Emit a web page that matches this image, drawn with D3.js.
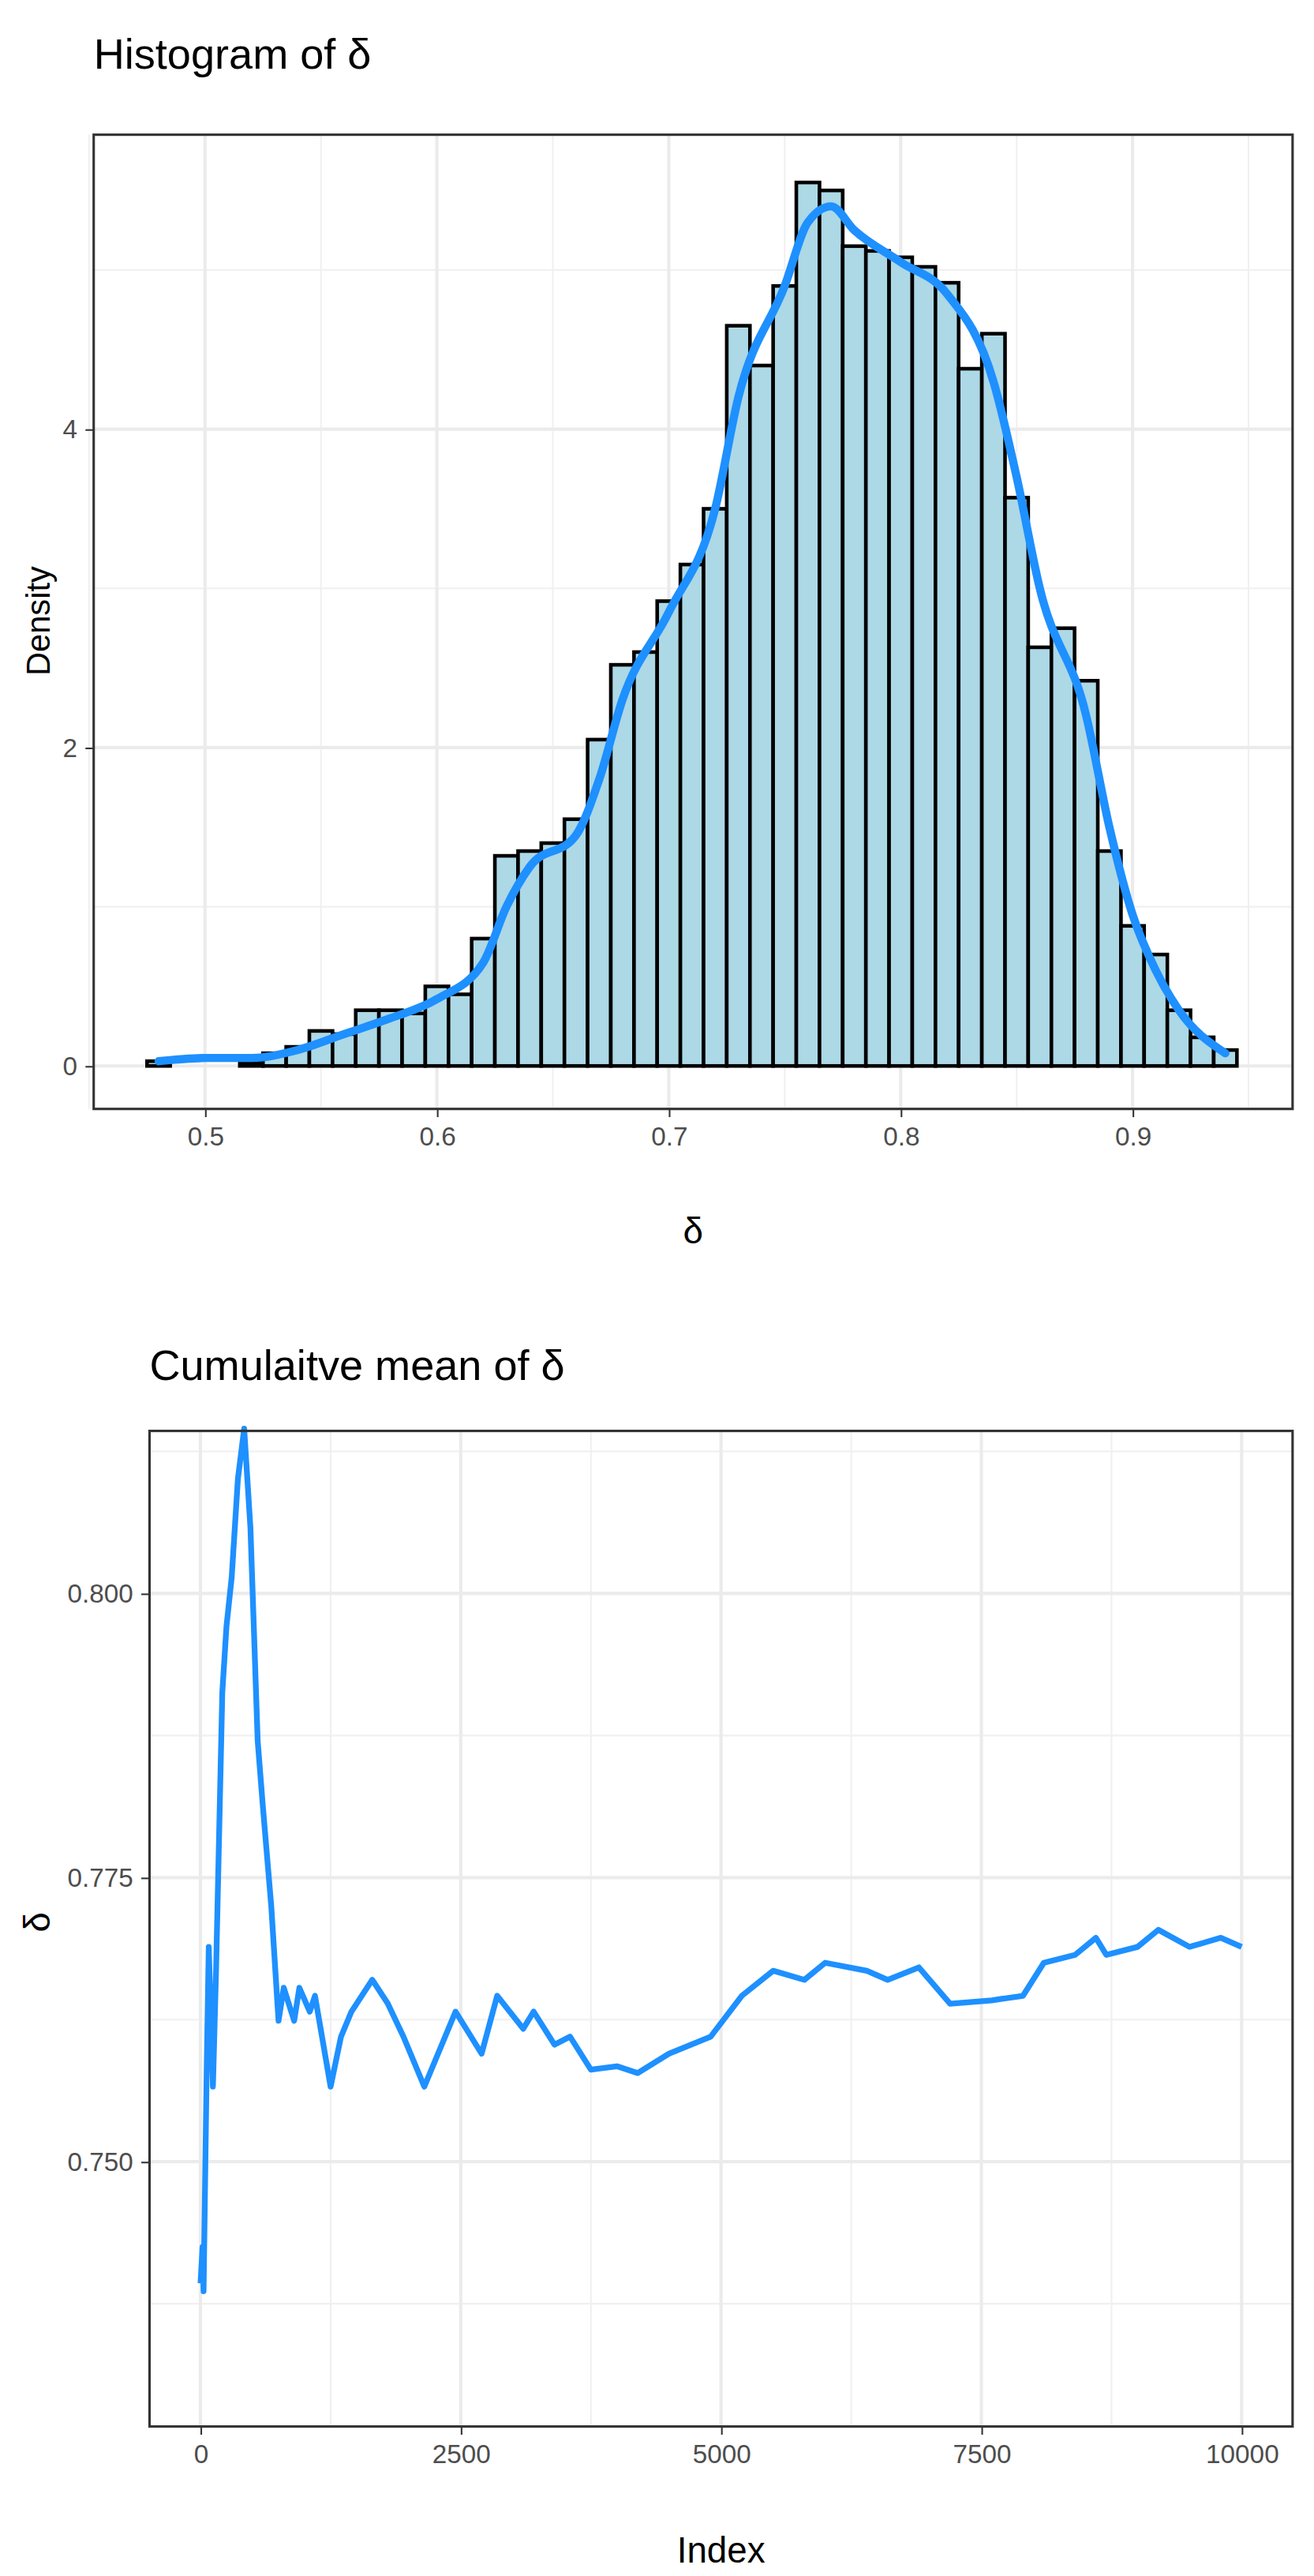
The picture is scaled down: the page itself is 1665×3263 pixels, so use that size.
<!DOCTYPE html>
<html><head><meta charset="utf-8">
<script src="https://cdn.jsdelivr.net/npm/d3@7"></script>
<style>body{margin:0;background:#fff}text{font-family:"Liberation Sans Narrow","Liberation Sans",sans-serif}</style>
</head><body>
<script>
// histogram bins (centres) and densities
var binMid = d3.range(48, 95).map(function(d){ return d / 100; });
var binDensity = [0.03,0,0,0,0.02,0.08,0.12,0.22,0.2,0.35,0.35,0.33,0.5,0.45,0.8,1.32,1.35,1.4,1.55,2.05,2.52,2.6,2.92,3.15,3.5,4.65,4.4,4.9,5.55,5.5,5.15,5.12,5.08,5.02,4.92,4.38,4.6,3.57,2.63,2.75,2.42,1.35,0.88,0.7,0.35,0.18,0.1];
// density curve
var kdeX = [0.48,0.5,0.52,0.54,0.56,0.58,0.6,0.62,0.63,0.64,0.66,0.67,0.68,0.7,0.72,0.73,0.75,0.76,0.77,0.78,0.8,0.82,0.84,0.85,0.86,0.88,0.89,0.9,0.91,0.92,0.94];
var kdeY = [0.03,0.05,0.05,0.1,0.2,0.3,0.42,0.65,1.0,1.25,1.45,1.8,2.3,2.85,3.5,4.2,4.9,5.3,5.4,5.25,5.05,4.85,4.3,3.7,3.0,2.2,1.5,0.95,0.6,0.35,0.08];
// cumulative mean trace
var cmIndex = [1,20,30,60,80,120,150,210,250,300,360,420,480,550,600,680,750,800,900,950,1050,1100,1250,1350,1450,1650,1800,1950,2150,2350,2450,2700,2850,3100,3200,3400,3550,3750,4000,4200,4500,4900,5200,5500,5800,6000,6400,6600,6900,7200,7600,7900,8100,8400,8600,8700,9000,9200,9500,9800,10000];
var cmValue = [0.7393,0.7425,0.7386,0.7581,0.7689,0.7566,0.7668,0.7913,0.7971,0.8014,0.8101,0.8145,0.8058,0.7870,0.7812,0.7725,0.7624,0.7653,0.7624,0.7653,0.7632,0.7646,0.7566,0.7610,0.7632,0.7660,0.7639,0.7610,0.7566,0.7610,0.7632,0.7595,0.7646,0.7617,0.7632,0.7603,0.7610,0.7581,0.7584,0.7578,0.7595,0.7610,0.7646,0.7668,0.7660,0.7675,0.7668,0.7660,0.7671,0.7639,0.7642,0.7646,0.7675,0.7682,0.7697,0.7682,0.7689,0.7704,0.7689,0.7697,0.7689];
var histTicks = [0.5,0.6,0.7,0.8,0.9], densTicks = [0,2,4];
var idxTicks = [0,2500,5000,7500,10000], meanTicks = [0.75,0.775,0.8];

var svg = d3.select("body").append("svg")
  .attr("width",1665).attr("height",3263).attr("viewBox","0 0 800 1568");

function panel(x0,y0,x1,y1,xs,ys,xt,yt,xfmt,yfmt,xminor,yminor){
  var g = svg.append("g");
  g.append("rect").attr("x",x0).attr("y",y0).attr("width",x1-x0).attr("height",y1-y0).attr("fill","#fff");
  xminor.forEach(function(v){ g.append("line").attr("x1",xs(v)).attr("x2",xs(v)).attr("y1",y0).attr("y2",y1).attr("stroke","#f0f0f0").attr("stroke-width",1); });
  yminor.forEach(function(v){ g.append("line").attr("y1",ys(v)).attr("y2",ys(v)).attr("x1",x0).attr("x2",x1).attr("stroke","#f0f0f0").attr("stroke-width",1); });
  xt.forEach(function(v){ g.append("line").attr("x1",xs(v)).attr("x2",xs(v)).attr("y1",y0).attr("y2",y1).attr("stroke","#ebebeb").attr("stroke-width",2); });
  yt.forEach(function(v){ g.append("line").attr("y1",ys(v)).attr("y2",ys(v)).attr("x1",x0).attr("x2",x1).attr("stroke","#ebebeb").attr("stroke-width",2); });
  var ax = svg.append("g").attr("transform","translate(0,"+y1+")").call(d3.axisBottom(xs).tickValues(xt).tickFormat(xfmt).tickSize(5).tickPadding(6));
  var ay = svg.append("g").attr("transform","translate("+x0+",0)").call(d3.axisLeft(ys).tickValues(yt).tickFormat(yfmt).tickSize(5).tickPadding(5));
  [ax,ay].forEach(function(a){ a.select(".domain").remove(); a.selectAll("line").attr("stroke","#333"); a.selectAll("text").attr("font-size",16).attr("fill","#4d4d4d").style("font-family","'Liberation Sans Narrow',sans-serif"); });
  return g;
}

// top panel
var x1s = d3.scaleLinear().domain([0.452,0.969]).range([57,787]);
var y1s = d3.scaleLinear().domain([-0.27,5.85]).range([675,82]);
var g1 = panel(57,82,787,675,x1s,y1s,histTicks,densTicks,d3.format(".1f"),d3.format("d"),[0.45,0.55,0.65,0.75,0.85,0.95],[1,3,5]);
g1.selectAll("rect.bar").data(binMid).enter().append("rect")
  .attr("x",function(d){ return x1s(d-0.005); }).attr("width",x1s(0.01)-x1s(0))
  .attr("y",function(d,i){ return y1s(binDensity[i]); })
  .attr("height",function(d,i){ return y1s(0)-y1s(binDensity[i]); })
  .attr("fill","#add8e6").attr("stroke","#000").attr("stroke-width",2.2);
g1.append("path").datum(kdeX).attr("fill","none").attr("stroke","#1e90ff").attr("stroke-width",5).attr("stroke-linecap","round")
  .attr("d",d3.line().x(function(d){ return x1s(d); }).y(function(d,i){ return y1s(kdeY[i]); }).curve(d3.curveMonotoneX));
svg.append("rect").attr("x",57).attr("y",82).attr("width",730).attr("height",593).attr("fill","none").attr("stroke","#333").attr("stroke-width",1.5);
svg.append("text").attr("x",57).attr("y",42).attr("font-size",26).text("Histogram of   δ");
svg.append("text").attr("x",422).attr("y",757).attr("font-size",22).attr("text-anchor","middle").text("δ");
svg.append("text").attr("transform","translate(30,378) rotate(-90)").attr("font-size",20).attr("text-anchor","middle").style("font-family","'Liberation Sans',sans-serif").text("Density");

// bottom panel
var x2s = d3.scaleLinear().domain([-500,10500]).range([91,787]).domain([(91-122)/0.0634,(787-122)/0.0634]);
var y2s = d3.scaleLinear().domain([0.7267,0.8143]).range([1477,871]);
var g2 = panel(91,871,787,1477,x2s,y2s,idxTicks,meanTicks,d3.format("d"),d3.format(".3f"),[1250,3750,6250,8750],[0.7375,0.7625,0.7875,0.8125]);
g2.append("path").datum(cmIndex).attr("fill","none").attr("stroke","#1e90ff").attr("stroke-width",3.5).attr("stroke-linejoin","round")
  .attr("d",d3.line().x(function(d){ return x2s(d); }).y(function(d,i){ return y2s(cmValue[i]); }));
svg.append("rect").attr("x",91).attr("y",871).attr("width",696).attr("height",606).attr("fill","none").attr("stroke","#333").attr("stroke-width",1.5);
svg.append("text").attr("x",91).attr("y",840).attr("font-size",26).text("Cumulaitve mean of   δ");
svg.append("text").attr("x",439).attr("y",1560).attr("font-size",22).attr("text-anchor","middle").text("Index");
svg.append("text").attr("transform","translate(30,1170) rotate(-90)").attr("font-size",22).attr("text-anchor","middle").text("δ");
</script>
</body></html>
